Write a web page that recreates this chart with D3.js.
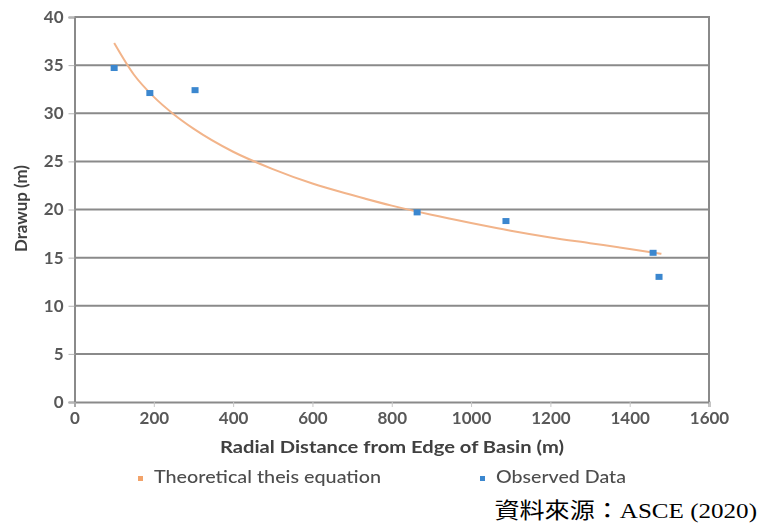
<!DOCTYPE html>
<html>
<head>
<meta charset="utf-8">
<script src="https://cdn.jsdelivr.net/npm/d3@7"></script>
<style>
  html, body { margin: 0; padding: 0; background: #fff; }
  svg { display: block; }
</style>
</head>
<body>
<svg id="chart" width="759" height="528"></svg>
<script>
// Observed drawup at each radial distance (m)
const obsDistance = [100, 190, 304, 864, 1088, 1459, 1474];
const obsDrawup   = [34.7, 32.1, 32.4, 19.7, 18.8, 15.5, 13.0];

// Theoretical Theis curve, sampled along the distance axis
const theisDistance = [100, 150, 200, 250, 300, 400, 500, 600, 700, 800, 900, 1000, 1100, 1200, 1300, 1400, 1480];
const theisDrawup   = [37.3, 34.0, 31.7, 29.9, 28.4, 26.0, 24.2, 22.7, 21.5, 20.4, 19.45, 18.6, 17.8, 17.1, 16.5, 15.9, 15.4];

const xTicks = [0, 200, 400, 600, 800, 1000, 1200, 1400, 1600];
const yTicks = [0, 5, 10, 15, 20, 25, 30, 35, 40];

const legendLabels = ["Theoretical theis equation", "Observed Data"];
const sourceText = "資料來源：ASCE (2020)";

const svg = d3.select("#chart");
const plot = { left: 74.5, right: 709, top: 17, bottom: 402 };

const x = d3.scaleLinear().domain([0, 1600]).range([plot.left, plot.right]);
const y = d3.scaleLinear().domain([0, 40]).range([plot.bottom, plot.top]);

const gridColor = "#8a8a8a";
const textColor = "#595959";
const font = "Lato, 'Open Sans', sans-serif";

const soft = svg.append("defs").append("filter").attr("id", "soft");
soft.append("feGaussianBlur").attr("stdDeviation", 0.5);

const g = svg.append("g").attr("filter", "url(#soft)");

// horizontal gridlines
g.append("g")
  .selectAll("line")
  .data(yTicks.filter(d => d > 0))
  .join("line")
  .attr("x1", plot.left).attr("x2", plot.right)
  .attr("y1", d => y(d)).attr("y2", d => y(d))
  .attr("stroke", gridColor).attr("stroke-width", 2);

// right border
g.append("line")
  .attr("x1", plot.right).attr("x2", plot.right)
  .attr("y1", plot.top - 1).attr("y2", plot.bottom)
  .attr("stroke", gridColor).attr("stroke-width", 2);

// y axis
const yAxis = g.append("g")
  .attr("transform", `translate(${plot.left},0)`)
  .call(d3.axisLeft(y).tickValues(yTicks).tickFormat(d3.format("d")).tickSize(6).tickPadding(5));
yAxis.select(".domain").attr("stroke", gridColor).attr("stroke-width", 2);
yAxis.selectAll(".tick line").attr("stroke", "#b5b5b5");
yAxis.selectAll(".tick text")
  .attr("fill", textColor)
  .style("font", `bold 17px ${font}`);

// x axis
const xAxis = g.append("g")
  .attr("transform", `translate(0,${plot.bottom})`)
  .call(d3.axisBottom(x).tickValues(xTicks).tickFormat(d3.format("d")).tickSize(5).tickPadding(5));
xAxis.select(".domain").attr("stroke", gridColor).attr("stroke-width", 2);
xAxis.selectAll(".tick line").attr("stroke", "#c8c8c8");
xAxis.selectAll(".tick text")
  .attr("fill", textColor)
  .style("font", `bold 17px ${font}`);

// Theis curve
const line = d3.line()
  .x((d, i) => x(theisDistance[i]))
  .y(d => y(d))
  .curve(d3.curveMonotoneX);
g.append("path")
  .datum(theisDrawup)
  .attr("d", line)
  .attr("fill", "none")
  .attr("stroke", "#f2b48a")
  .attr("stroke-width", 2);

// observed points
g.append("g")
  .selectAll("rect")
  .data(obsDrawup)
  .join("rect")
  .attr("x", (d, i) => x(obsDistance[i]) - 3.5)
  .attr("y", d => y(d) - 3)
  .attr("width", 7).attr("height", 6)
  .attr("fill", "#3b87cf");

// axis titles
g.append("text")
  .attr("x", 220).attr("y", 453)
  .attr("textLength", 344).attr("lengthAdjust", "spacingAndGlyphs")
  .attr("fill", "#404040")
  .style("font", `bold 17px ${font}`)
  .text("Radial Distance from Edge of Basin (m)");

g.append("text")
  .attr("transform", "translate(27,252) rotate(-90)")
  .attr("textLength", 87).attr("lengthAdjust", "spacingAndGlyphs")
  .attr("fill", "#404040")
  .style("font", `bold 17px ${font}`)
  .text("Drawup (m)");

// legend
const legendX = [140, 482];
const legendTextWidth = [227, 130];
const legendColor = ["#f2a36b", "#3b87cf"];
const legend = g.append("g");
legend.selectAll("rect")
  .data(legendLabels)
  .join("rect")
  .attr("x", (d, i) => legendX[i] - 2)
  .attr("y", 476)
  .attr("width", 5).attr("height", 5)
  .attr("fill", (d, i) => legendColor[i]);
legend.selectAll("text")
  .data(legendLabels)
  .join("text")
  .attr("x", (d, i) => legendX[i] + 14)
  .attr("y", 483)
  .attr("textLength", (d, i) => legendTextWidth[i])
  .attr("lengthAdjust", "spacingAndGlyphs")
  .attr("fill", "#4d4d4d")
  .style("font", `500 17px ${font}`)
  .text(d => d);

// source note
svg.append("text")
  .attr("transform", "translate(757,518) scale(1.14,1)")
  .attr("text-anchor", "end")
  .attr("fill", "#000")
  .style("font", "22px 'Liberation Serif', 'Noto Sans CJK TC', serif")
  .text(sourceText);
</script>
</body>
</html>
